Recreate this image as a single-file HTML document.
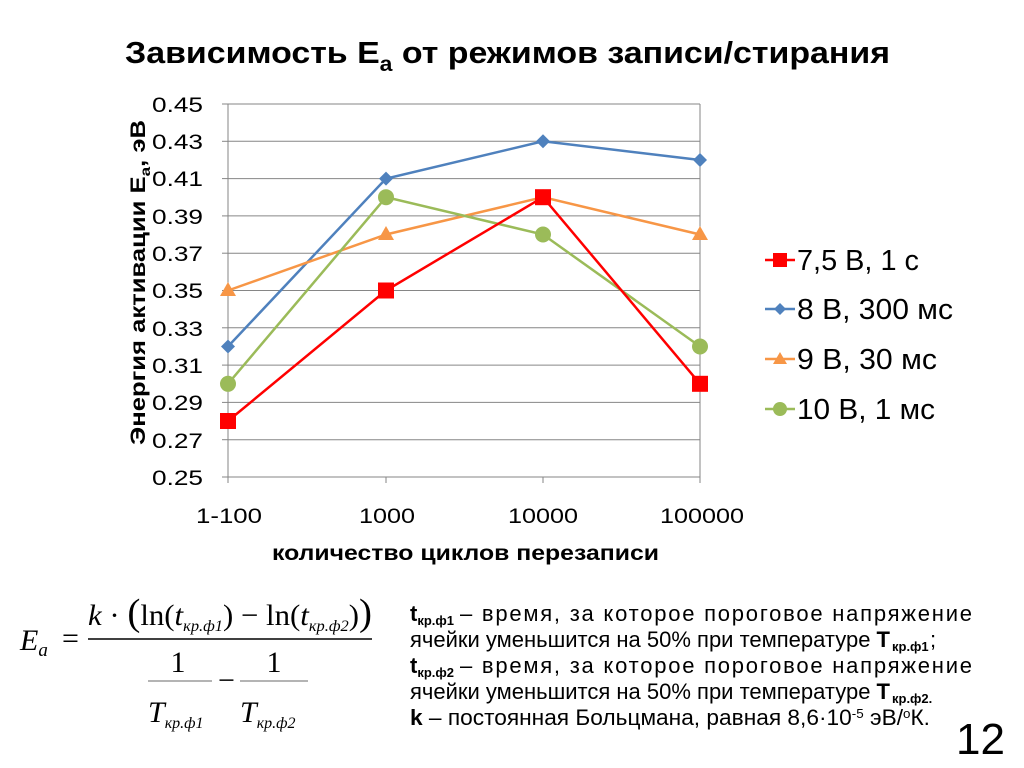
<!DOCTYPE html>
<html><head><meta charset="utf-8"><style>body{margin:0;background:#fff}svg{display:block}</style></head><body>
<svg width="1024" height="768" xmlns="http://www.w3.org/2000/svg" font-family="Liberation Sans, Arial, sans-serif">
<text x="125" y="63" font-size="31" font-weight="bold" textLength="765" lengthAdjust="spacingAndGlyphs">Зависимость E<tspan font-size="21" dy="8">a</tspan><tspan dy="-8"> от режимов записи/стирания</tspan></text>
<g stroke="#868686" stroke-width="1">
<line x1="228" y1="104" x2="700" y2="104"/><line x1="228" y1="141.3" x2="700" y2="141.3"/><line x1="228" y1="178.6" x2="700" y2="178.6"/><line x1="228" y1="215.9" x2="700" y2="215.9"/><line x1="228" y1="253.2" x2="700" y2="253.2"/><line x1="228" y1="290.5" x2="700" y2="290.5"/><line x1="228" y1="327.8" x2="700" y2="327.8"/><line x1="228" y1="365.1" x2="700" y2="365.1"/><line x1="228" y1="402.4" x2="700" y2="402.4"/><line x1="228" y1="439.7" x2="700" y2="439.7"/><line x1="222" y1="477" x2="700" y2="477"/>
<line x1="228" y1="104" x2="228" y2="477"/><line x1="700" y1="104" x2="700" y2="477"/>
<line x1="222" y1="104" x2="228" y2="104"/><line x1="222" y1="141.3" x2="228" y2="141.3"/><line x1="222" y1="178.6" x2="228" y2="178.6"/><line x1="222" y1="215.9" x2="228" y2="215.9"/><line x1="222" y1="253.2" x2="228" y2="253.2"/><line x1="222" y1="290.5" x2="228" y2="290.5"/><line x1="222" y1="327.8" x2="228" y2="327.8"/><line x1="222" y1="365.1" x2="228" y2="365.1"/><line x1="222" y1="402.4" x2="228" y2="402.4"/><line x1="222" y1="439.7" x2="228" y2="439.7"/>
<line x1="228" y1="477" x2="228" y2="483"/><line x1="386" y1="477" x2="386" y2="483"/><line x1="543" y1="477" x2="543" y2="483"/><line x1="700" y1="477" x2="700" y2="483"/>
</g>
<g font-size="21" lengthAdjust="spacingAndGlyphs">
<text x="152" y="112" textLength="51" lengthAdjust="spacingAndGlyphs">0.45</text><text x="152" y="149" textLength="51" lengthAdjust="spacingAndGlyphs">0.43</text><text x="152" y="186" textLength="51" lengthAdjust="spacingAndGlyphs">0.41</text><text x="152" y="224" textLength="51" lengthAdjust="spacingAndGlyphs">0.39</text><text x="152" y="261" textLength="51" lengthAdjust="spacingAndGlyphs">0.37</text><text x="152" y="298" textLength="51" lengthAdjust="spacingAndGlyphs">0.35</text><text x="152" y="336" textLength="51" lengthAdjust="spacingAndGlyphs">0.33</text><text x="152" y="373" textLength="51" lengthAdjust="spacingAndGlyphs">0.31</text><text x="152" y="410" textLength="51" lengthAdjust="spacingAndGlyphs">0.29</text><text x="152" y="448" textLength="51" lengthAdjust="spacingAndGlyphs">0.27</text><text x="152" y="485" textLength="51" lengthAdjust="spacingAndGlyphs">0.25</text>
</g>
<g font-size="21">
<text x="196" y="523" textLength="66" lengthAdjust="spacingAndGlyphs">1-100</text><text x="359" y="523" textLength="56" lengthAdjust="spacingAndGlyphs">1000</text><text x="508" y="523" textLength="70" lengthAdjust="spacingAndGlyphs">10000</text><text x="660" y="523" textLength="84" lengthAdjust="spacingAndGlyphs">100000</text>
<text x="272" y="560" font-weight="bold" textLength="387" lengthAdjust="spacingAndGlyphs">количество циклов перезаписи</text>
</g>
<text transform="translate(145,445) rotate(-90)" font-size="21" font-weight="bold" textLength="325" lengthAdjust="spacingAndGlyphs">Энергия активации E<tspan font-size="14" dy="5">a</tspan><tspan dy="-5">, эВ</tspan></text>
<polyline points="228,346.5 386,178.6 543,141.3 700,160" fill="none" stroke="#4f81bd" stroke-width="2.5"/>
<polyline points="228,290.5 386,234.5 543,197.2 700,234.5" fill="none" stroke="#f79646" stroke-width="2.5"/>
<polyline points="228,383.8 386,197.2 543,234.5 700,346.5" fill="none" stroke="#9bbb59" stroke-width="2.5"/>
<polyline points="228,421 386,290.5 543,197.2 700,383.8" fill="none" stroke="#ff0000" stroke-width="2.5"/>
<g fill="#4f81bd"><path d="M228 339.5l7 7-7 7-7-7z"/><path d="M386 171.6l7 7-7 7-7-7z"/><path d="M543 134.3l7 7-7 7-7-7z"/><path d="M700 153l7 7-7 7-7-7z"/></g>
<g fill="#f79646"><path d="M228 282l8 14h-16z"/><path d="M386 226l8 14h-16z"/><path d="M543 189l8 14h-16z"/><path d="M700 226l8 14h-16z"/></g>
<g fill="#9bbb59"><circle cx="228" cy="383.8" r="8"/><circle cx="386" cy="197.2" r="8"/><circle cx="543" cy="234.5" r="8"/><circle cx="700" cy="346.5" r="8"/></g>
<g fill="#ff0000"><rect x="220" y="413" width="16" height="16"/><rect x="378" y="282.5" width="16" height="16"/><rect x="535" y="189.2" width="16" height="16"/><rect x="692" y="375.8" width="16" height="16"/></g>
<g stroke-width="2.5">
<line x1="765" y1="260" x2="795" y2="260" stroke="#ff0000"/><rect x="773" y="253" width="14" height="14" fill="#ff0000"/>
<line x1="765" y1="309" x2="795" y2="309" stroke="#4f81bd"/><path d="M780 303l6 6-6 6-6-6z" fill="#4f81bd"/>
<line x1="765" y1="359" x2="795" y2="359" stroke="#f79646"/><path d="M780 352l7 12h-14z" fill="#f79646"/>
<line x1="765" y1="409" x2="795" y2="409" stroke="#9bbb59"/><circle cx="780" cy="409" r="7" fill="#9bbb59"/>
</g>
<g font-size="29"><text x="797" y="270" textLength="122" lengthAdjust="spacingAndGlyphs">7,5 В, 1 с</text><text x="797" y="319" textLength="156" lengthAdjust="spacingAndGlyphs">8 В, 300 мс</text><text x="797" y="369" textLength="140" lengthAdjust="spacingAndGlyphs">9 В, 30 мс</text><text x="797" y="419" textLength="138" lengthAdjust="spacingAndGlyphs">10 В, 1 мс</text></g>
<g font-family="Liberation Serif, serif" font-size="30">
<text x="20" y="650" font-style="italic">E<tspan font-size="19" dy="6">a</tspan></text>
<text x="62" y="648">=</text>
<line x1="88" y1="639" x2="372" y2="639" stroke="#000" stroke-width="1.5"/>
<text x="88" y="625" textLength="284" lengthAdjust="spacingAndGlyphs"><tspan font-style="italic">k</tspan> · <tspan font-size="38">(</tspan>ln(<tspan font-style="italic">t</tspan><tspan font-style="italic" font-size="16" dy="6">кр.ф1</tspan><tspan dy="-6">) − ln(</tspan><tspan font-style="italic">t</tspan><tspan font-style="italic" font-size="16" dy="6">кр.ф2</tspan><tspan dy="-6">)</tspan><tspan font-size="38">)</tspan></text>
<text x="178" y="672" text-anchor="middle">1</text>
<text x="274" y="672" text-anchor="middle">1</text>
<line x1="148" y1="681" x2="212" y2="681" stroke="#888" stroke-width="1.2"/>
<line x1="240" y1="681" x2="308" y2="681" stroke="#888" stroke-width="1.2"/>
<text x="218" y="690">−</text>
<text x="148" y="722" font-style="italic">T<tspan font-size="16" dy="6">кр.ф1</tspan></text>
<text x="240" y="722" font-style="italic">T<tspan font-size="16" dy="6">кр.ф2</tspan></text>
</g>
<g font-size="22">
<text x="410" y="621"><tspan font-weight="bold">t</tspan><tspan font-weight="bold" font-size="13" dy="4">кр.ф1</tspan><tspan dy="-4" x="460" textLength="512" lengthAdjust="spacing">– время, за которое пороговое напряжение</tspan></text>
<text x="410" y="647" textLength="480" lengthAdjust="spacingAndGlyphs">ячейки уменьшится на 50% при температуре <tspan font-weight="bold">Т</tspan></text><text x="892" y="651" font-weight="bold" font-size="13">кр.ф1</text><text x="930" y="647">;</text>
<text x="410" y="673"><tspan font-weight="bold">t</tspan><tspan font-weight="bold" font-size="13" dy="4">кр.ф2</tspan><tspan dy="-4" x="460" textLength="512" lengthAdjust="spacing">– время, за которое пороговое напряжение</tspan></text>
<text x="410" y="699" textLength="480" lengthAdjust="spacingAndGlyphs">ячейки уменьшится на 50% при температуре <tspan font-weight="bold">Т</tspan></text><text x="892" y="703" font-weight="bold" font-size="13">кр.ф2.</text>
<text x="410" y="725" textLength="520" lengthAdjust="spacingAndGlyphs"><tspan font-weight="bold">k</tspan> – постоянная Больцмана, равная 8,6·10<tspan font-size="13" dy="-7">-5</tspan><tspan dy="7"> эВ/</tspan><tspan font-size="13" dy="-7">o</tspan><tspan dy="7">К.</tspan></text>
</g>
<text x="1005" y="754" font-size="44" text-anchor="end">12</text>
</svg>
</body></html>
